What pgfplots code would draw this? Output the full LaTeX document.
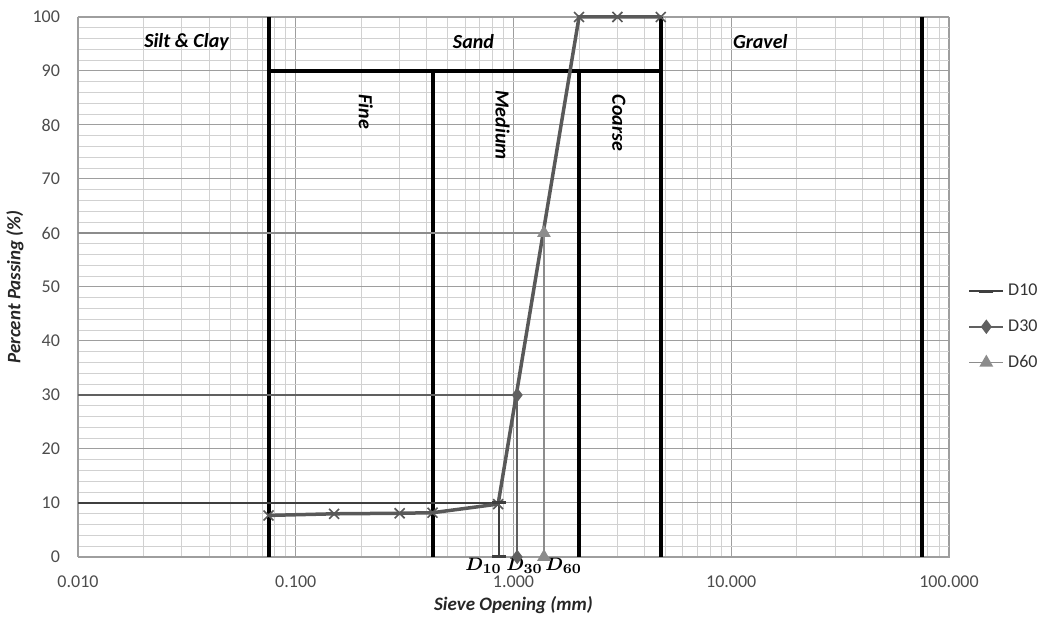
\documentclass[border=0pt]{standalone}
\usepackage{pgfplots}
\pgfplotsset{compat=1.18}
\usepackage{bm}
\usepackage[no-math]{fontspec}
\setmainfont{Carlito}

\definecolor{curve}{HTML}{595959}
\definecolor{dten}{HTML}{3F3F3F}
\definecolor{dthirty}{HTML}{606060}
\definecolor{dsixty}{HTML}{8C8C8C}

\begin{document}
\begin{tikzpicture}
\begin{axis}[
  scale only axis,
  width=435.5pt, height=270pt,
  xmode=log, log basis x=10,
  xmin=0.01, xmax=100, ymin=0, ymax=100,
  xtick={0.01,0.1,1,10,100},
  xticklabels={0.010,0.100,1.000,10.000,100.000},
  minor xtick={0.02,0.03,0.04,0.05,0.06,0.07,0.08,0.09,
               0.2,0.3,0.4,0.5,0.6,0.7,0.8,0.9,
               2,3,4,5,6,7,8,9,20,30,40,50,60,70,80,90},
  ytick={0,10,...,100},
  minor y tick num=4,
  grid=both,
  major grid style={draw=black!38, line width=0.5pt},
  minor grid style={draw=black!18, line width=0.5pt},
  axis line style={draw=black!38},
  major tick length=0pt, minor tick length=0pt,
  /pgf/number format/assume math mode=true,
  tick label style={font=\fontsize{9}{11}\selectfont, text=black!70},
  xticklabel style={yshift=-6pt},
  yticklabel style={xshift=-5.5pt},
  xlabel={Sieve Opening (mm)},
  ylabel={Percent Passing (\%)},
  label style={font=\fontsize{9.5}{11}\selectfont\bfseries\itshape, text=black!85},
  xlabel style={at={(axis description cs:0.5,-0.089)}, anchor=center},
  ylabel style={at={(axis description cs:-0.0725,0.5)}, anchor=center},
  clip=false,
  legend style={at={(1.015,0.426)}, anchor=west, draw=none, fill=none,
    font=\fontsize{9}{11}\selectfont, text=black!80, row sep=6.5pt},
  legend cell align=left,
]
% zone boundaries
\addplot[black, line width=2pt, forget plot] coordinates {(0.075,0)(0.075,100)};
\addplot[black, line width=2pt, forget plot] coordinates {(0.425,0)(0.425,90)};
\addplot[black, line width=2pt, forget plot] coordinates {(2.0,0)(2.0,90)};
\addplot[black, line width=2pt, forget plot] coordinates {(4.75,0)(4.75,100)};
\addplot[black, line width=2pt, forget plot] coordinates {(75,0)(75,100)};
\addplot[black, line width=2pt, forget plot] coordinates {(0.075,90)(4.75,90)};

% D lines (horizontal parts)
\addplot[dten, line width=0.8pt, forget plot] coordinates {(0.01,10)(0.86,10)};
\addplot[dthirty, line width=0.8pt, forget plot] coordinates {(0.01,30)(1.04,30)};
\addplot[dsixty, line width=0.8pt, forget plot] coordinates {(0.01,60)(1.38,60)};

% gradation curve
\addplot[curve, line width=1.75pt, mark=x, mark size=3.5pt,
  mark options={line width=0.8pt}, forget plot] coordinates {
  (0.075,7.7)(0.15,8.0)(0.3,8.1)(0.425,8.2)(0.85,9.8)(2.0,100)(3.0,100)(4.75,100)
};

% D markers (legend series)
\addplot[dten, line width=0.8pt, mark=-, mark size=3.5pt,
  mark options={line width=1.5pt}] coordinates {(0.86,10)(0.86,0)};
\addlegendentry{D10}
\addplot[dthirty, line width=0.8pt, mark=diamond*, mark size=3pt] coordinates {(1.04,30)(1.04,0)};
\addlegendentry{D30}
\addplot[dsixty, line width=0.8pt, mark=triangle*, mark size=3.2pt] coordinates {(1.38,60)(1.38,0)};
\addlegendentry{D60}

% zone labels
\begin{scope}[every node/.style={font=\fontsize{10}{12}\selectfont\bfseries\itshape}]
\node at (axis cs:0.0315,95.4) {Silt \& Clay};
\node at (axis cs:0.655,95.4) {Sand};
\node at (axis cs:13.6,95.4) {Gravel};
\node[rotate=-90] at (axis cs:0.21,82.4) {Fine};
\node[rotate=-90] at (axis cs:0.89,80.0) {Medium};
\node[rotate=-90] at (axis cs:3.05,80.4) {Coarse};
\end{scope}
\node[font=\fontsize{9.5}{10}\selectfont] at (axis cs:0.728,-1.7) {$\bm{D_{10}}$};
\node[font=\fontsize{9.5}{10}\selectfont] at (axis cs:1.124,-1.7) {$\bm{D_{30}}$};
\node[font=\fontsize{9.5}{10}\selectfont] at (axis cs:1.70,-1.7) {$\bm{D_{60}}$};
\end{axis}
\pgfresetboundingbox
\path[use as bounding box] ([shift={(-39pt,-32pt)}]current axis.south west)
  rectangle ([shift={(48.5pt,8.5pt)}]current axis.north east);
\end{tikzpicture}
\end{document}
